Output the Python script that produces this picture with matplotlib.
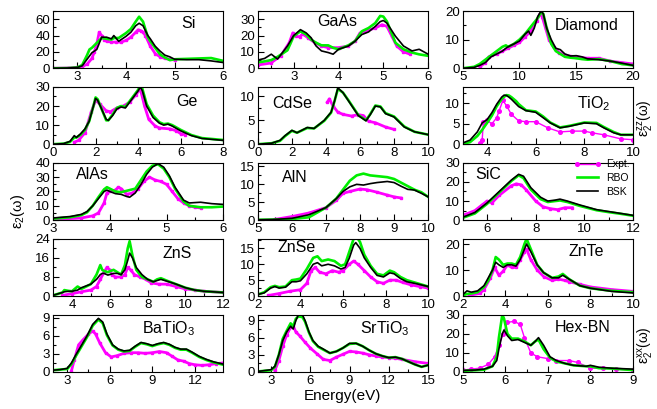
import matplotlib
matplotlib.use('Agg')
import matplotlib.pyplot as plt
from matplotlib.ticker import MultipleLocator
from matplotlib.lines import Line2D

plt.rcParams['font.family'] = ['Liberation Sans', 'DejaVu Sans']
plt.rcParams['mathtext.default'] = 'regular'

# ---------------- data ----------------
SI_E   = [2.5, 2.8, 3.0, 3.1, 3.2, 3.25, 3.3, 3.4, 3.5, 3.6, 3.7, 3.75, 3.85, 4.0, 4.1, 4.2, 4.27, 4.35, 4.45, 4.5, 4.6, 4.7, 4.8, 4.9, 5.0, 5.25, 5.5, 5.75, 6.0]
SI_BSK = [0, 0.3, 1, 3, 11, 15, 19, 23, 38, 38, 36, 40, 33, 39, 44, 52, 55, 52, 40, 36, 27, 21, 16, 14, 11, 10.5, 10.5, 9, 7]
SI_RBO = [0, 0.2, 1, 4, 16, 23, 25, 31, 37, 36, 35, 37, 37, 43, 48, 57, 63, 57, 38, 33, 25, 17, 13, 10, 11, 11.5, 12, 12.5, 9]
SI_EXP_E = [2.5, 2.8, 3.0, 3.1, 3.2, 3.3, 3.35, 3.4, 3.45, 3.5, 3.55, 3.6, 3.7, 3.8, 3.9, 4.0, 4.1, 4.2, 4.25, 4.3, 4.35, 4.4, 4.5, 4.6, 4.7, 4.8, 4.9, 5.0]
SI_EXP   = [0, 0.3, 1, 2, 5, 12, 20, 30, 44, 40, 35, 33, 32, 32, 32, 34, 38, 44, 47, 46, 44, 40, 27, 18, 14, 12, 11, 10]

GAAS_E   = [2.2, 2.35, 2.5, 2.64, 2.86, 3.0, 3.15, 3.28, 3.39, 3.5, 3.62, 3.77, 3.88, 4.0, 4.22, 4.37, 4.52, 4.67, 4.82, 4.93, 5.0, 5.08, 5.27, 5.45, 5.64, 5.8, 6.0]
GAAS_BSK = [5, 6, 8.6, 5.6, 13.6, 20, 23.6, 21.6, 18.6, 13.6, 10.6, 9.6, 8.6, 11.6, 13.6, 16.6, 20.6, 22.2, 25.6, 28.5, 29.2, 27.6, 19.6, 13.6, 10.6, 11.6, 8.6]
GAAS_RBO = [3.6, 4.2, 5, 7, 11, 19.6, 22.6, 20.6, 17.5, 15.6, 14, 14, 12.5, 11.6, 14, 16.6, 22.6, 24.6, 27.6, 32, 31.6, 28.6, 15.6, 11.6, 9.6, 8.5, 7.6]
GAAS_EXP_E = [2.2, 2.49, 2.71, 2.9, 2.98, 3.05, 3.13, 3.2, 3.32, 3.47, 3.62, 3.77, 4.0, 4.22, 4.37, 4.48, 4.59, 4.82, 4.97, 5.08, 5.19, 5.3, 5.45, 5.6]
GAAS_EXP   = [2, 3.2, 7.6, 15.6, 21.6, 19.6, 19.2, 21, 18.6, 15.6, 13.6, 12.6, 12.6, 13.6, 16.6, 21.6, 22.6, 24.6, 26.6, 25.6, 19.6, 13.6, 10, 8.6]

DIA_E   = [5, 6, 6.5, 7, 7.5, 8, 8.5, 8.8, 9, 9.5, 10, 10.5, 10.8, 11, 11.3, 11.6, 11.9, 12.1, 12.4, 12.8, 13.2, 13.6, 14, 14.5, 15, 15.5, 16, 17, 18, 19, 20]
DIA_BSK = [0, 0.3, 1, 2, 4, 5, 6, 7, 7.5, 8.5, 9.5, 12, 13, 11.5, 14, 18, 20, 19, 14, 10, 7, 6.5, 5, 4.3, 4.4, 4, 3.3, 3, 2.5, 1.8, 1]
DIA_RBO = [0, 0.5, 1.5, 3, 4.5, 6, 7.5, 8, 7.5, 8.5, 10, 12, 13.5, 14.5, 16, 17.5, 19.5, 19, 14, 8.5, 6, 5, 4, 3.7, 3.5, 3.2, 3, 3.2, 2.5, 1.5, 1]
DIA_EXP_E = [6.5, 7, 7.3, 7.6, 8, 8.5, 9, 9.5, 10, 10.5, 11, 11.5, 11.8, 12, 12.3, 12.6, 13, 13.5, 14, 15, 16, 17, 18, 19, 20]
DIA_EXP   = [0.5, 2, 4, 4.5, 5, 6, 7, 8, 9, 11, 13, 16.5, 19, 18, 14, 10, 7.5, 5.5, 4.5, 4, 3.5, 3.5, 2.5, 2, 1.5]

GE_E   = [0, 0.5, 0.8, 1.0, 1.1, 1.3, 1.5, 1.7, 1.9, 2.0, 2.1, 2.3, 2.5, 2.6, 2.8, 3.0, 3.2, 3.4, 3.6, 3.8, 4.0, 4.1, 4.2, 4.4, 4.7, 5.0, 5.2, 5.4, 5.6, 6.0, 6.5, 7.0, 8.0]
GE_BSK = [0, 0.3, 1.5, 4.5, 3.5, 5.5, 8, 12, 20, 24, 23, 18, 13, 12.5, 15, 18.5, 19.5, 19, 22, 25, 28, 30, 28, 20, 14, 11, 10, 10.5, 9.5, 7, 4.5, 3, 2]
GE_RBO = [0, 0.3, 1.2, 3.5, 3.5, 5, 7.5, 12, 20, 24.5, 23.5, 18, 12.5, 12.5, 15.5, 19, 20, 19.5, 22.5, 25.5, 28.5, 31, 29, 21, 15, 11.5, 10.5, 10.8, 10, 7.5, 4.8, 3.2, 2.2]
GE_EXP_E = [1.0, 1.2, 1.5, 1.8, 2.0, 2.2, 2.5, 2.7, 3.0, 3.3, 3.6, 3.9, 4.1, 4.3, 4.5, 4.8, 5.0, 5.5, 5.8, 6.0, 6.2]
GE_EXP   = [1, 2, 6, 17, 23, 21, 17.5, 17, 19, 20, 22, 26, 29, 20, 13, 9.5, 8.5, 8, 7, 5.5, 5]

CDSE_E   = [0, 0.8, 1.3, 1.6, 2.0, 2.3, 2.9, 3.3, 3.9, 4.3, 4.5, 4.7, 5.0, 5.3, 5.9, 6.35, 6.6, 6.9, 7.2, 7.5, 8.0, 8.6, 9.2, 10]
CDSE_BSK = [0, 0.2, 0.8, 1.8, 2.9, 2.4, 3.5, 3.3, 5, 6.7, 9, 11.8, 10.8, 9.2, 6, 4.9, 6.2, 8, 7.8, 6.4, 5.7, 3.6, 2.6, 2]
CDSE_RBO = [0, 0.2, 0.7, 1.7, 2.8, 2.4, 3.4, 3.3, 4.9, 6.6, 9, 11.6, 10.8, 9.3, 6.1, 5.0, 6.3, 8.1, 7.9, 6.5, 5.8, 3.7, 2.6, 2]
CDSE_EXP_E = [4.08, 4.2, 4.4, 4.7, 5.0, 5.5, 5.9, 6.2, 6.5, 6.9, 7.5, 8.0]
CDSE_EXP   = [8.8, 9.5, 8.1, 6.7, 6.25, 5.9, 6.2, 6.0, 4.8, 4.5, 3.6, 3.1]

TIO2_E   = [3.0, 3.3, 3.6, 3.8, 4.0, 4.2, 4.4, 4.6, 4.7, 4.8, 4.9, 5.0, 5.2, 5.3, 5.6, 6.0, 6.3, 6.6, 7.0, 7.4, 8.0, 8.5, 8.8, 9.2, 9.5, 10]
TIO2_BSK = [0.3, 1, 3, 5.2, 6, 7.7, 9.8, 11.5, 12, 11.9, 11.5, 11, 9.8, 9.2, 8.2, 7.8, 6.5, 5.2, 4, 4.4, 5.2, 5, 4, 2.8, 2.3, 2.3]
TIO2_RBO = [0.1, 0.5, 2, 3.5, 5.2, 7, 9.3, 11, 11.6, 12, 11.9, 11.5, 10.5, 9.8, 8.3, 8.0, 6.8, 5.3, 4.1, 4.5, 5.3, 5.2, 4.2, 3, 2.3, 2.3]
TIO2_EXP_E = [3.7, 3.8, 3.85, 4.0, 4.2, 4.4, 4.5, 4.65, 4.8, 5.0, 5.3, 5.6, 6.0, 6.5, 7.0, 7.5, 8.0, 8.3, 8.8, 9.5, 10]
TIO2_EXP   = [0.2, 1.0, 5.5, 5.8, 5.0, 6.5, 8.2, 10.7, 9.4, 7.3, 5.7, 5.5, 5.5, 4, 3, 3.2, 3.2, 2.8, 2.3, 1.3, 1.1]

ALAS_E   = [3.0, 3.3, 3.5, 3.6, 3.7, 3.8, 3.9, 3.95, 4.0, 4.1, 4.2, 4.3, 4.35, 4.45, 4.55, 4.65, 4.75, 4.85, 4.95, 5.05, 5.15, 5.3, 5.4, 5.6, 5.8, 6.0]
ALAS_BSK = [1.5, 2.5, 4, 6, 10, 15, 20, 21, 20, 18.5, 18, 16.5, 16, 19, 25, 32, 37, 39.5, 37, 31, 23, 14, 12, 12.5, 11.5, 11]
ALAS_RBO = [1, 2, 3.5, 5.5, 10, 16, 21.5, 23, 22, 20, 19.5, 20.5, 21, 22, 28, 34, 38, 39, 36, 30, 22, 13, 10, 9, 9, 9.5]
ALAS_EXP_E = [3.0, 3.5, 3.7, 3.8, 3.9, 3.95, 4.0, 4.1, 4.15, 4.2, 4.3, 4.4, 4.5, 4.6, 4.7, 4.8, 4.9, 5.0, 5.1, 5.2, 5.3, 5.4, 5.5, 5.6]
ALAS_EXP   = [0.5, 1.5, 3, 5, 12, 19, 20, 21, 23, 22, 18, 19, 22, 27, 30, 28, 27, 25, 20, 15, 12, 10, 9, 8.5]

ALN_E   = [5.0, 5.5, 6.0, 6.5, 7.0, 7.3, 7.5, 7.7, 7.9, 8.1, 8.3, 8.5, 8.8, 9.0, 9.2, 9.4, 9.6, 9.8, 10]
ALN_BSK = [0.1, 0.2, 0.5, 1.5, 3.5, 6, 8, 9.3, 10, 9.8, 10.2, 10.5, 10.8, 10.5, 9.5, 8.6, 8.4, 7.5, 6.5]
ALN_RBO = [0.1, 0.15, 0.3, 0.8, 3.5, 6, 8.5, 11, 12.5, 13, 12.5, 12.3, 12, 11.5, 10.5, 9.5, 8.5, 7.8, 6.5]
ALN_EXP_E = [5.5, 6.0, 6.5, 7.0, 7.3, 7.5, 7.7, 8.0, 8.2, 8.5, 8.8, 9.0, 9.2]
ALN_EXP   = [0.2, 1, 2, 3.5, 5.5, 7.5, 8, 8.7, 8.5, 7.8, 7, 6.5, 6.2]

SIC_E   = [5.0, 5.5, 6.0, 6.5, 7.0, 7.3, 7.5, 7.8, 8.2, 8.5, 8.8, 9.0, 9.3, 9.8, 10.5, 11.0, 11.5, 12.0]
SIC_BSK = [1.5, 4, 9, 15, 21, 24, 23, 17, 12, 10, 10.5, 11, 10, 8, 5.5, 4.5, 3.5, 2.5]
SIC_RBO = [1.2, 3.5, 8.5, 14.5, 20.5, 23.5, 22, 16, 11, 9.5, 10, 10.3, 9.5, 7.5, 5.2, 4.2, 3.3, 2.3]
SIC_EXP_E = [5.0, 5.5, 5.8, 6.0, 6.2, 6.5, 7.0, 7.2, 7.4, 7.6, 8.0, 8.3, 8.6, 8.9, 9.2, 9.5]
SIC_EXP   = [2.5, 5, 8, 10, 9, 13, 18, 19, 18.5, 16, 10, 7, 6, 5.5, 6.5, 6.5]

ZNS_E   = [3.0, 3.5, 3.6, 3.8, 4.0, 4.3, 4.5, 5.0, 5.3, 5.5, 5.6, 5.7, 5.9, 6.2, 6.4, 6.6, 6.8, 6.95, 7.05, 7.2, 7.4, 7.7, 8.0, 8.3, 8.5, 8.7, 9.0, 9.5, 10, 10.5, 11, 12]
ZNS_BSK = [0.3, 1.5, 1.8, 2, 2, 2.5, 3.5, 5, 7, 9, 9.5, 9.5, 8.8, 9.5, 9.5, 9, 11, 15, 18, 16, 12, 9, 7, 6, 6.5, 7, 6.3, 5, 3.5, 2.5, 2, 1.5]
ZNS_RBO = [0.3, 1.5, 2.5, 2.2, 2, 4, 3, 5, 9, 13, 11, 10.5, 10, 11, 10, 9, 13, 20, 23, 17, 11, 8, 7, 6, 7, 7.5, 6.5, 5, 3.5, 2.5, 2, 1.5]
ZNS_EXP_E = [3.5, 4.0, 4.5, 5.0, 5.3, 5.5, 5.7, 5.85, 6.0, 6.1, 6.3, 6.6, 6.8, 6.95, 7.1, 7.3, 7.6, 7.9, 8.2, 8.6, 9.0, 9.5, 10, 10.5, 11, 12]
ZNS_EXP   = [0.3, 1, 1.8, 2.5, 4, 7, 10, 12, 11, 9, 8, 8, 9, 12, 11, 9, 8, 7, 5.5, 5, 5, 4, 3, 2.5, 2, 1.5]

ZNSE_E   = [2.0, 2.3, 2.6, 2.8, 3.0, 3.3, 3.6, 3.8, 4.0, 4.3, 4.6, 4.8, 5.0, 5.3, 5.6, 5.9, 6.1, 6.3, 6.5, 6.6, 6.8, 7.0, 7.3, 7.6, 7.9, 8.2, 8.4, 8.7, 9.0, 9.5, 10]
ZNSE_BSK = [0.5, 1, 2.5, 3, 2.5, 2.8, 4.5, 4.5, 4.8, 7, 10, 10.5, 9.5, 10, 9.5, 8.5, 9, 12, 16, 16.8, 15, 12, 9, 6.5, 6, 7.3, 7, 5.5, 4.5, 3.8, 3]
ZNSE_RBO = [0.5, 1.2, 2.8, 3.2, 2.8, 3, 5, 5.2, 5.5, 8.5, 12, 12.5, 11, 11.5, 11, 9.5, 10, 14, 18, 19, 17, 13, 9.5, 7, 6.5, 8, 7.5, 6, 5, 4, 3]
ZNSE_EXP_E = [2.5, 3.0, 3.5, 4.0, 4.3, 4.5, 4.7, 4.9, 5.2, 5.5, 5.8, 6.0, 6.3, 6.5, 6.7, 7.0, 7.3, 7.6, 7.9, 8.2, 8.5, 8.8, 9.2, 9.6, 10]
ZNSE_EXP   = [0.2, 0.8, 1.5, 2, 4, 8, 9, 7.5, 7, 8, 7.5, 8, 10, 11, 10, 8, 6, 4.5, 4, 5, 5, 4.3, 3.5, 3, 2.5]

ZNTE_E   = [2.0, 2.2, 2.4, 2.7, 3.0, 3.2, 3.4, 3.55, 3.7, 3.9, 4.1, 4.3, 4.5, 4.7, 4.9, 5.0, 5.2, 5.5, 5.8, 6.2, 6.5, 6.7, 7.0, 7.5, 8.0, 9.0, 10]
ZNTE_BSK = [0.5, 2, 1.5, 2, 4, 7, 10, 13, 12, 11, 12, 12, 11.5, 14, 18, 20, 17, 12, 9, 7, 7, 8, 6.5, 4, 3, 1.8, 1.2]
ZNTE_RBO = [0.3, 0.8, 1, 1.5, 3.5, 6, 10, 15, 14, 12, 12.5, 12.5, 12, 15, 20, 22, 18, 12, 9, 7, 7.5, 8.5, 6.5, 4, 3, 2, 1.5]
ZNTE_EXP_E = [2.3, 2.8, 3.0, 3.3, 3.5, 3.7, 3.9, 4.1, 4.3, 4.5, 4.7, 4.9, 5.0, 5.2, 5.5, 5.8, 6.2, 6.5, 6.8, 7.0, 7.5, 8.0, 9.0, 10]
ZNTE_EXP   = [0.3, 1, 2.5, 7, 11, 8, 9.5, 12, 11, 11, 14, 17, 18, 14, 10, 7.5, 6, 6.5, 6, 5.5, 4.5, 3.5, 2.5, 1.8]

BTO_E   = [2.0, 2.5, 3.0, 3.3, 3.6, 4.0, 4.4, 4.8, 5.2, 5.5, 5.8, 6.2, 6.6, 7.0, 7.4, 7.8, 8.2, 8.6, 9.0, 9.4, 9.8, 10.2, 10.6, 11.0, 11.4, 11.8, 12.3, 12.8, 13.3, 14.0]
BTO_BSK = [0.3, 0.4, 0.6, 1.5, 2.8, 4.4, 6.0, 7.9, 8.9, 8.3, 6.3, 4.5, 3.8, 3.5, 3.6, 4.3, 4.9, 4.7, 4.4, 4.7, 4.9, 4.6, 4.1, 3.8, 3.8, 3.3, 2.6, 2.1, 1.7, 1.3]
BTO_RBO = [0.3, 0.4, 0.5, 1.3, 2.6, 4.2, 5.8, 7.7, 8.7, 8.1, 6.1, 4.4, 3.7, 3.4, 3.5, 4.2, 4.8, 4.6, 4.3, 4.6, 4.8, 4.5, 4.0, 3.7, 3.7, 3.2, 2.5, 2.0, 1.6, 1.2]
BTO_EXP_E = [3.3, 3.5, 3.8, 4.1, 4.5, 4.8, 5.0, 5.3, 5.7, 6.1, 6.5, 7.0, 7.5, 8.0, 8.5, 9.0, 9.5, 10.0, 10.4, 10.8, 11.2, 11.6, 12.0, 12.5, 13.0, 13.5, 14.0]
BTO_EXP   = [0.2, 2, 4.5, 5.3, 6.3, 6.8, 6.3, 4.8, 3.2, 2.5, 2.7, 3.1, 3.2, 3.2, 3.1, 3.2, 3.4, 3.2, 2.6, 2, 1.8, 1.4, 1.2, 1.1, 1.2, 1.4, 1.5]

STO_E   = [2.0, 3.0, 3.3, 3.6, 3.9, 4.2, 4.5, 4.7, 4.9, 5.1, 5.4, 5.6, 5.9, 6.2, 6.6, 7.0, 7.5, 8.0, 8.5, 9.0, 9.5, 10.0, 10.5, 11.0, 11.5, 12.0, 12.5, 13.0, 13.5, 14.0, 14.5, 15.0]
STO_BSK = [0.1, 0.4, 1, 3, 5.5, 7, 8, 7.5, 9, 10, 10, 9, 7, 5.5, 4.5, 4, 3.3, 3.6, 4.2, 5, 5, 4.5, 3.8, 3.2, 2.8, 2.5, 2.6, 2.3, 1.8, 1.3, 0.9, 1.2]
STO_RBO = [0.1, 0.3, 0.9, 3, 5.8, 7.2, 8.5, 8, 9.3, 9.7, 9.6, 8.8, 6.9, 5.4, 4.4, 3.9, 3.3, 3.6, 4.2, 4.9, 5, 4.5, 3.8, 3.2, 2.8, 2.5, 2.6, 2.3, 1.8, 1.3, 0.9, 1.2]
STO_EXP_E = [3.3, 3.6, 3.9, 4.2, 4.5, 4.7, 4.9, 5.2, 5.6, 6.0, 6.5, 7.0, 7.5, 8.0, 8.5, 9.0, 9.5, 10.0, 10.5, 11.0, 11.5, 12.0, 12.5, 13.0, 14.0, 15.0]
STO_EXP   = [0.3, 2, 4.5, 6.5, 7.8, 8, 7, 6.3, 5.2, 4.2, 3.2, 2.2, 2, 2.6, 3.1, 3.6, 3.5, 3.3, 3.0, 2.8, 2.6, 2.5, 2.4, 2.2, 1.8, 1.5]

HBN_E   = [5.0, 5.3, 5.5, 5.7, 5.8, 5.85, 5.93, 5.97, 6.05, 6.15, 6.3, 6.45, 6.6, 6.7, 6.78, 6.9, 7.05, 7.2, 7.4, 7.6, 7.9, 8.0, 8.2, 8.5, 9.0]
HBN_BSK = [0.8, 1, 1.5, 3, 6, 12, 20, 22, 19, 16.5, 17, 15.5, 14, 16, 18, 14, 8, 6, 4.5, 3.5, 3, 3.5, 2.5, 2, 1.5]
HBN_RBO = [0.6, 0.9, 1.2, 3, 8, 18, 30, 28, 20, 17.5, 17.5, 16, 14, 16, 17, 12, 7.5, 5.5, 4.5, 3.5, 3, 3, 2, 1.8, 1]
HBN_EXP_E = [5.0, 5.2, 5.4, 5.6, 5.75, 5.85, 5.95, 6.05, 6.2, 6.35, 6.45, 6.6, 6.75, 7.0, 7.2, 7.5, 7.7, 8.0, 8.3, 8.6, 9.0]
HBN_EXP   = [1, 1.5, 2, 4, 8, 14, 20, 26, 26.5, 25, 18, 10, 8, 7, 6, 6, 5, 2, 2, 1.5, 1]

LABELS = ['Si', 'GaAs', 'Diamond', 'Ge', 'CdSe', 'TiO$_2$', 'AlAs', 'AlN', 'SiC',
          'ZnS', 'ZnSe', 'ZnTe', 'BaTiO$_3$', 'SrTiO$_3$', 'Hex-BN']
SERIES = [
    (SI_E, SI_RBO, SI_BSK, SI_EXP_E, SI_EXP),
    (GAAS_E, GAAS_RBO, GAAS_BSK, GAAS_EXP_E, GAAS_EXP),
    (DIA_E, DIA_RBO, DIA_BSK, DIA_EXP_E, DIA_EXP),
    (GE_E, GE_RBO, GE_BSK, GE_EXP_E, GE_EXP),
    (CDSE_E, CDSE_RBO, CDSE_BSK, CDSE_EXP_E, CDSE_EXP),
    (TIO2_E, TIO2_RBO, TIO2_BSK, TIO2_EXP_E, TIO2_EXP),
    (ALAS_E, ALAS_RBO, ALAS_BSK, ALAS_EXP_E, ALAS_EXP),
    (ALN_E, ALN_RBO, ALN_BSK, ALN_EXP_E, ALN_EXP),
    (SIC_E, SIC_RBO, SIC_BSK, SIC_EXP_E, SIC_EXP),
    (ZNS_E, ZNS_RBO, ZNS_BSK, ZNS_EXP_E, ZNS_EXP),
    (ZNSE_E, ZNSE_RBO, ZNSE_BSK, ZNSE_EXP_E, ZNSE_EXP),
    (ZNTE_E, ZNTE_RBO, ZNTE_BSK, ZNTE_EXP_E, ZNTE_EXP),
    (BTO_E, BTO_RBO, BTO_BSK, BTO_EXP_E, BTO_EXP),
    (STO_E, STO_RBO, STO_BSK, STO_EXP_E, STO_EXP),
    (HBN_E, HBN_RBO, HBN_BSK, HBN_EXP_E, HBN_EXP),
]

# ---------------- layout / axis settings ----------------
AXES_CFG = [
    ((2.5, 6), (0, 70), 1, 0.5, 20, 10),
    ((2.2, 6), (0, 35), 1, 0.5, 10, 5),
    ((5, 20), (0, 20), 5, 2.5, 10, 5),
    ((0, 8), (0, 30), 2, 1, 10, 5),
    ((0, 10), (0, 12), 2, 1, 5, 2.5),
    ((3, 10), (0, 14), 2, 1, 5, 2.5),
    ((3, 6), (0, 40), 1, 0.5, 10, 5),
    ((5, 10), (0, 16), 1, 0.5, 5, 2.5),
    ((5, 12), (0, 30), 2, 1, 10, 5),
    ((3, 12), (0, 24), 2, 1, 8, 4),
    ((2, 10), (0, 18), 2, 1, 5, 2.5),
    ((2, 10), (0, 22), 2, 1, 10, 5),
    ((2, 14), (0, 9.5), 3, 1.5, 3, 1.5),
    ((2, 15), (0, 10), 3, 1.5, 3, 1.5),
    ((5, 9), (0, 30), 1, 0.5, 10, 5),
]
LABEL_PX = [(188, 24), (337, 22), (587, 25), (187, 102), (292, 104), (594, 104),
            (92, 174), (295, 178), (488, 175), (177, 254), (297, 248), (586, 252),
            (169, 329), (385, 329), (583, 328)]
SPARSE = {5, 14}

W, H = 657, 409
fig = plt.figure(figsize=(W / 100, H / 100), dpi=100)
gs = fig.add_gridspec(5, 3, left=53 / W, right=633 / W, top=1 - 11 / H, bottom=1 - 372 / H,
                      wspace=0.203, hspace=0.326)

MAG, GRN, BLK = '#ff00ff', '#00ee00', '#000000'

for i, (ser, cfg) in enumerate(zip(SERIES, AXES_CFG)):
    ax = fig.add_subplot(gs[i // 3, i % 3])
    e, rbo, bsk, ee, ex = ser
    xl, yl, xM, xm, yM, ym = cfg
    if i in SPARSE:
        ax.plot(ee, ex, color=MAG, lw=1.0, marker='o', ms=2.6, mec=MAG, mfc=MAG)
    else:
        ax.plot(ee, ex, color=MAG, lw=2.0, marker='s', ms=1.8, mec=MAG, mfc=MAG)
    ax.plot(e, rbo, color=GRN, lw=1.9)
    ax.plot(e, bsk, color=BLK, lw=1.2)
    ax.set_xlim(*xl)
    ax.set_ylim(*yl)
    ax.xaxis.set_major_locator(MultipleLocator(xM))
    ax.xaxis.set_minor_locator(MultipleLocator(xm))
    ax.yaxis.set_major_locator(MultipleLocator(yM))
    ax.yaxis.set_minor_locator(MultipleLocator(ym))
    ax.tick_params(which='both', direction='in', top=False, right=False, labelsize=9.5, pad=2)
    ax.tick_params(which='major', length=4.5, width=0.8)
    ax.tick_params(which='minor', length=2.5, width=0.8)
    for s in ax.spines.values():
        s.set_linewidth(0.8)
    lx, ly = LABEL_PX[i]
    fig.text(lx / W, 1 - ly / H, LABELS[i], fontsize=11.5, ha='center', va='center')
    if i == 8:
        handles = [Line2D([], [], color=MAG, lw=1.0, marker='o', ms=2.6),
                   Line2D([], [], color=GRN, lw=1.9),
                   Line2D([], [], color=BLK, lw=1.2)]
        ax.legend(handles, ['Expt.', 'RBO', 'BSK'], loc='upper right', bbox_to_anchor=(1.02, 1.17),
                  frameon=False, fontsize=7.5, numpoints=2,
                  handlelength=2.6, handletextpad=0.5, labelspacing=0.35, borderaxespad=0.2)

fig.text(18 / W, 1 - 211 / H, 'ε$_2$(ω)', rotation=90, fontsize=10.5, ha='center', va='center')
fig.text(646 / W, 1 - 118 / H, 'ε$_2^{zz}$(ω)', rotation=90, fontsize=10, ha='center', va='center')
fig.text(646 / W, 1 - 345 / H, 'ε$_2^{xx}$(ω)', rotation=90, fontsize=10, ha='center', va='center')
fig.text(342 / W, 1 - 396 / H, 'Energy(eV)', fontsize=11, ha='center', va='center')

fig.savefig('out.png', dpi=100)
